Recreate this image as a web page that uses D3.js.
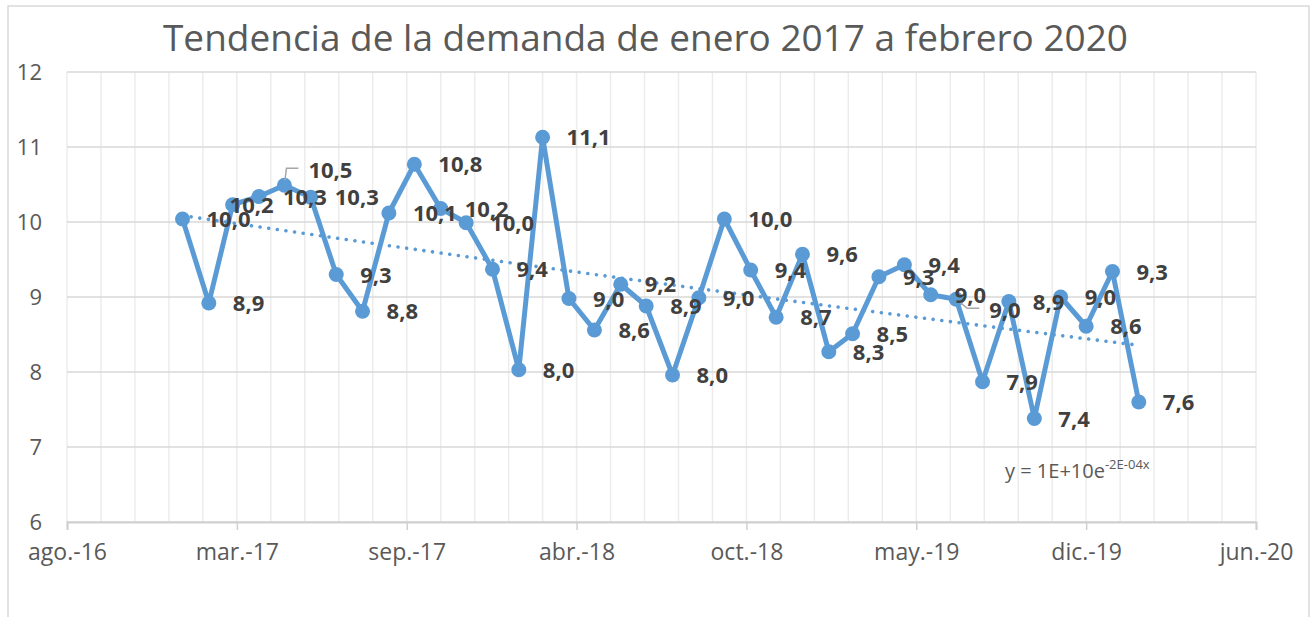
<!DOCTYPE html>
<html>
<head>
<meta charset="utf-8">
<script src="https://cdn.jsdelivr.net/npm/d3@7"></script>
<style>
  html, body { margin: 0; padding: 0; background: #ffffff; }
  svg { display: block; }
</style>
</head>
<body>
<svg id="chart" width="1315" height="617"></svg>
<script>
// ---------- DATA ----------
const chartTitle = "Tendencia de la demanda de enero 2017 a febrero 2020";
const months = [
  "2017-01","2017-02","2017-03","2017-04","2017-05","2017-06","2017-07","2017-08","2017-09","2017-10","2017-11","2017-12",
  "2018-01","2018-02","2018-03","2018-04","2018-05","2018-06","2018-07","2018-08","2018-09","2018-10","2018-11","2018-12",
  "2019-01","2019-02","2019-03","2019-04","2019-05","2019-06","2019-07","2019-08","2019-09","2019-10","2019-11","2019-12",
  "2020-01","2020-02"
];
const demand = [
  10.04, 8.92, 10.23, 10.34, 10.49, 10.33, 9.30, 8.81, 10.12, 10.77, 10.18, 9.99,
  9.37, 8.03, 11.13, 8.98, 8.56, 9.17, 8.88, 7.96, 8.99, 10.04, 9.36, 8.73,
  9.57, 8.27, 8.51, 9.27, 9.43, 9.03, 8.97, 7.87, 8.94, 7.38, 9.00, 8.61,
  9.34, 7.60
];
const xAxisStart = "2016-08-18";
const xAxisEnd = "2020-06-18";
const xTickLabels = ["ago.-16","mar.-17","sep.-17","abr.-18","oct.-18","may.-19","dic.-19","jun.-20"];
const yTickValues = [6, 7, 8, 9, 10, 11, 12];
const trendLabelMain = "y = 1E+10e";
const trendLabelExp = "-2E-04x";
// manually moved data labels (index, shift x, shift y, leader line)
const labelMoves = [
  { i: 2, dx: -27, dy: 0, leader: false },
  { i: 4, dx: 0, dy: -15, leader: true },
  { i: 30, dx: 9, dy: 11, leader: true }
];

// ---------- LAYOUT ----------
const W = 1315, H = 617;
const plot = { left: 67, right: 1256, top: 72, bottom: 522 };
const blue = "#5b9bd5";
const parse = d3.timeParse("%Y-%m-%d");
const dates = months.map(m => parse(m + "-01"));
const t0 = parse(xAxisStart), t1 = parse(xAxisEnd);

const svg = d3.select("#chart");
svg.append("rect").attr("width", W).attr("height", H).attr("fill", "#fff");
// chart border
svg.append("rect").attr("x", 8).attr("y", 6).attr("width", 1301).attr("height", 700)
  .attr("fill", "none").attr("stroke", "#d9d9d9").attr("stroke-width", 1.5);

const x = d3.scaleTime().domain([t0, t1]).range([plot.left, plot.right]);
const y = d3.scaleLinear().domain([6, 12]).range([plot.bottom, plot.top]);

// vertical gridlines every 40 days
const minorTicks = d3.range(0, 1401, 40).map(d => d3.timeDay.offset(t0, d));
svg.append("g").selectAll("line").data(minorTicks).join("line")
  .attr("x1", d => x(d)).attr("x2", d => x(d))
  .attr("y1", plot.top).attr("y2", plot.bottom)
  .attr("stroke", "#ececec").attr("stroke-width", 1.5);

// horizontal gridlines
svg.append("g").selectAll("line").data(yTickValues).join("line")
  .attr("x1", plot.left).attr("x2", plot.right)
  .attr("y1", d => y(d)).attr("y2", d => y(d))
  .attr("stroke", "#d9d9d9").attr("stroke-width", 1.5);

// y axis labels
const yAxis = d3.axisLeft(y).tickValues(yTickValues).tickSize(0).tickPadding(0).tickFormat(d3.format("d"));
const gy = svg.append("g").attr("transform", "translate(42,0)").call(yAxis);
gy.select(".domain").remove();
gy.selectAll("text").attr("font-family", "'Open Sans', sans-serif").attr("font-size", 22)
  .attr("fill", "#595959").attr("dy", "0.36em");

// x axis
const majorTicks = d3.range(0, 1401, 200).map(d => d3.timeDay.offset(t0, d));
const xAxis = d3.axisBottom(x).tickValues(majorTicks).tickSize(8).tickPadding(14)
  .tickFormat((d, i) => xTickLabels[i]);
const gx = svg.append("g").attr("transform", `translate(0,${plot.bottom})`).call(xAxis);
gx.select(".domain").attr("stroke", "#d0d0d0").attr("stroke-width", 2);
gx.selectAll(".tick line").attr("stroke", "#d0d0d0").attr("stroke-width", 1.5);
gx.selectAll("text").attr("font-family", "'Open Sans', sans-serif").attr("font-size", 23)
  .attr("fill", "#595959");

// series line
const line = d3.line().x((d, i) => x(dates[i])).y(d => y(d));
svg.append("path").datum(demand).attr("d", line)
  .attr("fill", "none").attr("stroke", blue).attr("stroke-width", 5)
  .attr("stroke-linejoin", "round").attr("stroke-linecap", "round");

svg.append("g").selectAll("circle").data(demand).join("circle")
  .attr("cx", (d, i) => x(dates[i])).attr("cy", d => y(d)).attr("r", 7.5)
  .attr("fill", blue);

// exponential trendline (least squares on ln y vs day)
const days = dates.map(d => (d - t0) / 86400000);
const lnY = demand.map(v => Math.log(v));
const n = days.length;
const mx = d3.mean(days), my = d3.mean(lnY);
let sxy = 0, sxx = 0;
for (let k = 0; k < n; k++) { sxy += (days[k] - mx) * (lnY[k] - my); sxx += (days[k] - mx) ** 2; }
const b = sxy / sxx, a = my - b * mx;
const trendLine = d3.line().x((d, i) => x(dates[i])).y((d, i) => y(Math.exp(a + b * days[i])));
svg.append("path").datum(demand).attr("d", trendLine)
  .attr("fill", "none").attr("stroke", blue).attr("stroke-width", 3.6)
  .attr("stroke-linecap", "round").attr("stroke-dasharray", "0.01 8.7");

// data labels
const fmt = v => v.toFixed(1).replace(".", ",");
const labels = demand.map((v, i) => {
  const mv = labelMoves.find(m => m.i === i);
  const px = x(dates[i]), py = y(v);
  return { v, px, py, lx: px + 24 + (mv ? mv.dx : 0), ly: py + (mv ? mv.dy : 0), leader: mv ? mv.leader : false };
});
// leader lines
svg.append("g").selectAll("polyline").data(labels.filter(d => d.leader)).join("polyline")
  .attr("points", d => {
    const cy = d.ly - 2;
    const ex = d.lx - 10;
    const cx = ex - 12;
    const ang = Math.atan2(cy - d.py, cx - d.px);
    const sx = d.px + 5 * Math.cos(ang), sy = d.py + 5 * Math.sin(ang);
    return `${sx},${sy} ${cx},${cy} ${ex},${cy}`;
  })
  .attr("fill", "none").attr("stroke", "#a6a6a6").attr("stroke-width", 1.5);

svg.append("g").selectAll("text").data(labels).join("text")
  .attr("x", d => d.lx).attr("y", d => d.ly + 8)
  .attr("font-family", "'Open Sans', sans-serif").attr("font-weight", 700).attr("font-size", 22)
  .attr("fill", "#404040").text(d => fmt(d.v));

// trendline equation
const eq = svg.append("text").attr("x", 1005).attr("y", 478)
  .attr("font-family", "'Open Sans', sans-serif").attr("font-size", 20).attr("fill", "#595959");
eq.append("tspan").text(trendLabelMain);
eq.append("tspan").attr("font-size", 13).attr("dy", -9).text(trendLabelExp);

// title
const title = svg.append("text").attr("x", 645.5).attr("y", 51).attr("text-anchor", "middle")
  .attr("font-family", "'Open Sans', sans-serif").attr("font-size", 37).attr("fill", "#595959")
  .attr("textLength", 965).attr("lengthAdjust", "spacingAndGlyphs")
  .text(chartTitle);
</script>
</body>
</html>
